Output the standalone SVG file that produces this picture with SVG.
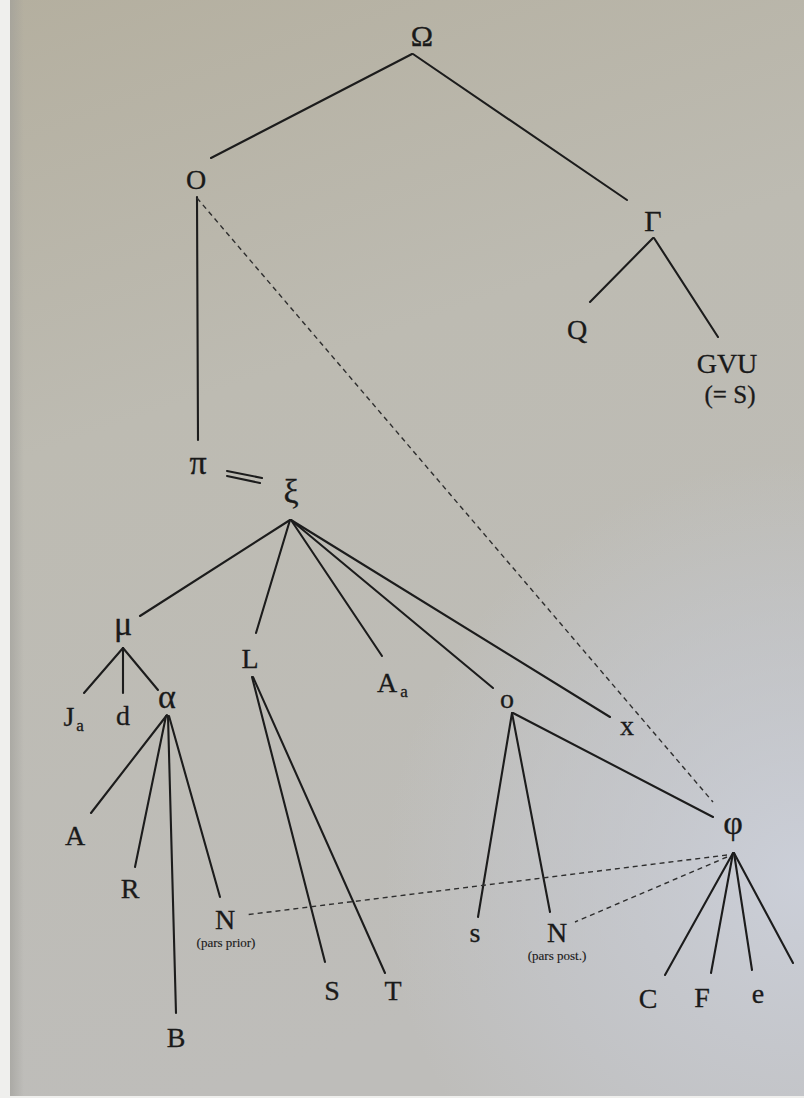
<svg xmlns="http://www.w3.org/2000/svg" width="804" height="1098" viewBox="0 0 804 1098">
<defs>
<linearGradient id="page" x1="0" y1="0" x2="0.25" y2="1">
<stop offset="0" stop-color="#b4af9f"/>
<stop offset="0.4" stop-color="#bdbbb2"/>
<stop offset="1" stop-color="#bebdba"/>
</linearGradient>
<radialGradient id="blue" cx="804" cy="880" r="420" gradientUnits="userSpaceOnUse">
<stop offset="0" stop-color="#ccd0da" stop-opacity="0.95"/>
<stop offset="0.6" stop-color="#c8ccd6" stop-opacity="0.45"/>
<stop offset="1" stop-color="#c8ccd6" stop-opacity="0"/>
</radialGradient>
<linearGradient id="shadow" x1="0" y1="0" x2="1" y2="0">
<stop offset="0" stop-color="#9e9d98" stop-opacity="0.6"/>
<stop offset="1" stop-color="#9e9d98" stop-opacity="0"/>
</linearGradient>
<style>
text{font-family:"Liberation Serif","DejaVu Serif",serif;fill:#1a1a1a;text-anchor:middle;stroke:#1a1a1a;stroke-width:0.3}
.n{font-size:28px}
.g{font-size:30px}
.gl{font-size:34px}
.sub{font-size:17px}
.sm{font-size:13px;stroke-width:0.15}
.e{stroke:#1c1c1c;stroke-width:2.1;fill:none;stroke-linecap:round}
.d{stroke:#2e2e2e;stroke-width:1.4;fill:none;stroke-dasharray:5 4}
</style>
</defs>
<rect x="0" y="0" width="804" height="1098" fill="url(#page)"/>
<rect x="0" y="0" width="804" height="1098" fill="url(#blue)"/>
<rect x="10" y="0" width="14" height="1098" fill="url(#shadow)"/>
<rect x="0" y="0" width="10" height="1098" fill="#efefed"/>
<rect x="0" y="1096" width="804" height="2" fill="#efefed"/>

<g id="connectors">
<line class="e" x1="412" y1="54" x2="211" y2="158"/>
<line class="e" x1="413" y1="54" x2="627" y2="200"/>
<line class="e" x1="653" y1="238" x2="590" y2="302"/>
<line class="e" x1="654" y1="238" x2="718" y2="337"/>
<line class="e" x1="197" y1="197" x2="198" y2="440"/>
<line class="e" x1="227" y1="471" x2="262" y2="478"/>
<line class="e" x1="227" y1="476" x2="260" y2="483"/>
<line class="e" x1="290" y1="520" x2="140" y2="616"/>
<line class="e" x1="290" y1="520" x2="256" y2="633"/>
<line class="e" x1="291" y1="520" x2="382" y2="656"/>
<line class="e" x1="291" y1="520" x2="493" y2="688"/>
<line class="e" x1="291" y1="520" x2="610" y2="717"/>
<line class="e" x1="123" y1="648" x2="84" y2="693"/>
<line class="e" x1="123" y1="648" x2="123" y2="693"/>
<line class="e" x1="123" y1="648" x2="158" y2="690"/>
<line class="e" x1="167" y1="715" x2="91" y2="813"/>
<line class="e" x1="166" y1="716" x2="135" y2="867"/>
<line class="e" x1="168" y1="716" x2="176" y2="1013"/>
<line class="e" x1="169" y1="716" x2="220" y2="897"/>
<line class="e" x1="252" y1="677" x2="325" y2="962"/>
<line class="e" x1="253" y1="677" x2="385" y2="973"/>
<line class="e" x1="512" y1="713" x2="478" y2="917"/>
<line class="e" x1="512" y1="713" x2="550" y2="912"/>
<line class="e" x1="513" y1="713" x2="713" y2="817"/>
<line class="e" x1="733" y1="853" x2="665" y2="975"/>
<line class="e" x1="733" y1="853" x2="711" y2="973"/>
<line class="e" x1="734" y1="853" x2="752" y2="970"/>
<line class="e" x1="734" y1="853" x2="793" y2="963"/>
<line class="d" x1="197" y1="198" x2="713" y2="802"/>
<line class="d" x1="727" y1="855" x2="245" y2="915"/>
<line class="d" x1="727" y1="857" x2="575" y2="922"/>
</g>

<g id="n-Omega"><text class="g" x="422" y="46">Ω</text></g>
<g id="n-O"><text class="n" x="196" y="189">O</text></g>
<g id="n-Gamma"><text class="g" x="653" y="231">Γ</text></g>
<g id="n-Q"><text class="n" x="577" y="339">Q</text></g>
<g id="n-GVU"><text class="n" x="727" y="373">GVU</text><text x="730" y="403" style="font-size:25px">(= S)</text></g>
<g id="n-pi"><text class="gl" x="198" y="474">π</text></g>
<g id="n-xi"><text class="gl" x="291" y="503">ξ</text></g>
<g id="n-mu"><text class="gl" x="123" y="635">μ</text></g>
<g id="n-Ja"><text class="n" x="69" y="726">J</text><text class="sub" x="80" y="731">a</text></g>
<g id="n-d"><text class="n" x="123" y="725">d</text></g>
<g id="n-alpha"><text class="gl" x="167" y="708">α</text></g>
<g id="n-A"><text class="n" x="75" y="845">A</text></g>
<g id="n-R"><text class="n" x="130" y="898">R</text></g>
<g id="n-B"><text class="n" x="176" y="1047">B</text></g>
<g id="n-Nprior"><text class="n" x="225" y="929">N</text><text class="sm" x="226" y="947">(pars prior)</text></g>
<g id="n-L"><text class="n" x="250" y="668">L</text></g>
<g id="n-S"><text class="n" x="332" y="1000">S</text></g>
<g id="n-T"><text class="n" x="393" y="1000">T</text></g>
<g id="n-Aa"><text class="n" x="387" y="692">A</text><text class="sub" x="404" y="697">a</text></g>
<g id="n-o"><text class="n" x="507" y="708">o</text></g>
<g id="n-x"><text class="n" x="627" y="735">x</text></g>
<g id="n-s"><text class="n" x="475" y="942">s</text></g>
<g id="n-Npost"><text class="n" x="557" y="942">N</text><text class="sm" x="557" y="960">(pars post.)</text></g>
<g id="n-phi"><text class="gl" x="733" y="834">φ</text></g>
<g id="n-C"><text class="n" x="648" y="1008">C</text></g>
<g id="n-F"><text class="n" x="702" y="1007">F</text></g>
<g id="n-e"><text class="n" x="758" y="1003">e</text></g>
</svg>
